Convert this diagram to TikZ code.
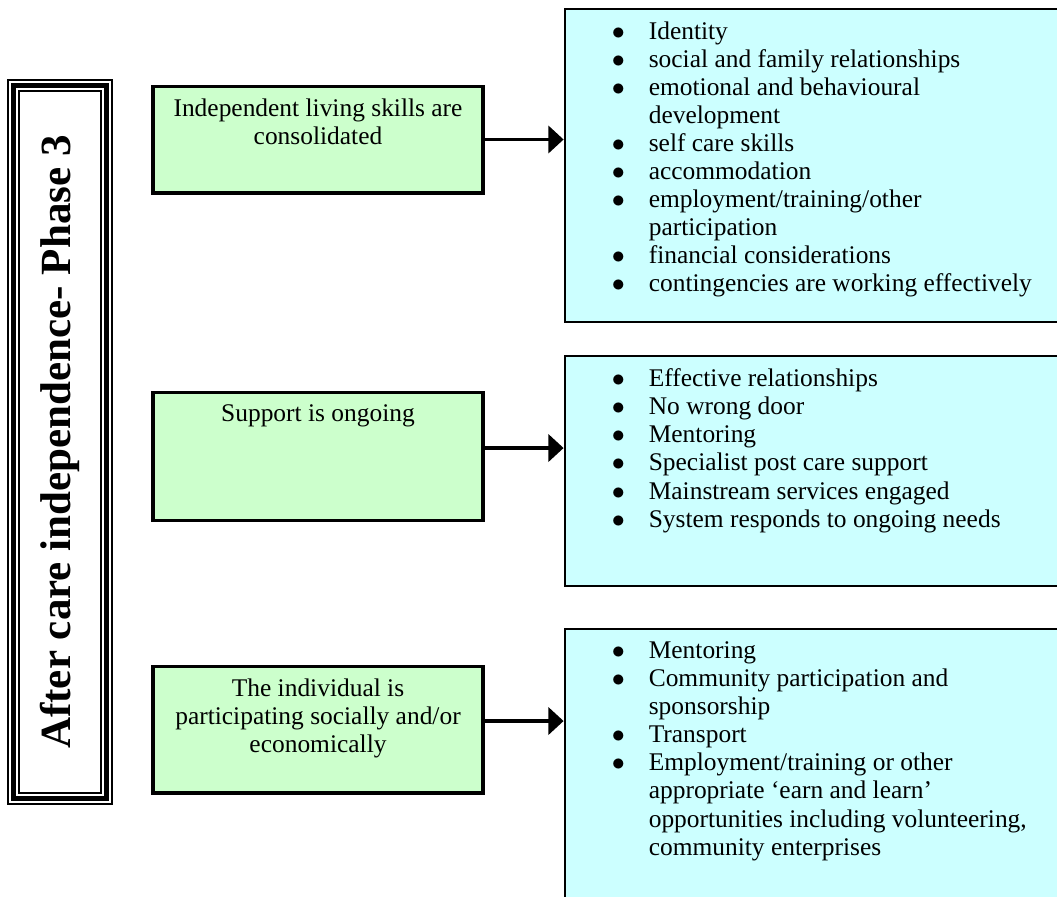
\documentclass[tikz,border=0pt]{standalone}
\usepackage{fontspec}
\setmainfont{Liberation Serif}
\usetikzlibrary{positioning,arrows.meta}

\definecolor{goalgreen}{RGB}{204,255,204}
\definecolor{detailcyan}{RGB}{204,255,255}

\newcommand{\bul}{\makebox[17pt][l]{$\bullet$}}
\newcommand{\cnt}{\hspace*{17pt}}

\begin{document}
\begin{tikzpicture}[x=0.46pt, y=-0.46pt,
	goal/.style={draw, line width=1.4pt, fill=goalgreen, minimum width=151.8pt, inner sep=0pt},
	detail/.style={draw, line width=1.3pt, fill=detailcyan, minimum width=227.7pt, inner sep=0pt},
	goaltext/.style={inner sep=0pt, align=center, font=\fontsize{11.7pt}{12.9pt}\selectfont},
	listtext/.style={inner sep=0pt, align=left, font=\fontsize{11.7pt}{12.9pt}\selectfont},
	link/.style={line width=1.5pt, -{Triangle[length=7pt,width=12.5pt]}}]

	\clip (0,0) rectangle (1057,896);

	% phase banner
	\node[draw, line width=0.9pt, minimum width=47.8pt, minimum height=333pt, inner sep=0pt] (frame) at (60,442) {};
	\draw[line width=2.4pt] ([shift={(6.5,6.5)}]frame.north west) rectangle ([shift={(-6.5,-6.5)}]frame.south east);
	\draw[line width=0.9pt] ([shift={(12,12)}]frame.north west) rectangle ([shift={(-12,-12)}]frame.south east);
	\node[rotate=90, font=\fontsize{19.8pt}{23pt}\selectfont\bfseries] (title) at (frame.center) {After care independence- Phase 3};

	% outcomes
	\node[goal, minimum height=49.2pt] (g1) at (318,139.5) {};
	\node[goal, minimum height=59.3pt] (g2) at (318,456.5) {};
	\node[goal, minimum height=58.4pt] (g3) at (318,729.5) {};

	\node[goaltext, below=6.4pt of g1.north] (g1t) {Independent living skills are\\consolidated};
	\node[goaltext, below=6.4pt of g2.north] (g2t) {Support is ongoing};
	\node[goaltext, below=6.4pt of g3.north] (g3t) {The individual is\\participating socially and/or\\economically};

	% indicators
	\node[detail, minimum height=144pt] (b1) at (812.5,165.5) {};
	\node[detail, minimum height=105.8pt] (b2) at (812.5,471) {};
	\node[detail, minimum height=124.7pt] (b3) at (812.5,764.5) {};

	\node[listtext, below right=6.4pt and 22pt of b1.north west] (b1t) {\bul Identity\\
		\bul social and family relationships\\
		\bul emotional and behavioural\\
		\cnt development\\
		\bul self care skills\\
		\bul accommodation\\
		\bul employment/training/other\\
		\cnt participation\\
		\bul financial considerations\\
		\bul contingencies are working effectively};
	\node[listtext, below right=6.4pt and 22pt of b2.north west] (b2t) {\bul Effective relationships\\
		\bul No wrong door\\
		\bul Mentoring\\
		\bul Specialist post care support\\
		\bul Mainstream services engaged\\
		\bul System responds to ongoing needs};
	\node[listtext, below right=6.4pt and 22pt of b3.north west] (b3t) {\bul Mentoring\\
		\bul Community participation and\\
		\cnt sponsorship\\
		\bul Transport\\
		\bul Employment/training or other\\
		\cnt appropriate ‘earn and learn’\\
		\cnt opportunities including volunteering,\\
		\cnt community enterprises};

	% links
	\coordinate (a1) at (g1.east);
	\coordinate (a2) at ([yshift=3.9pt]g2.east);
	\coordinate (a3) at ([yshift=3.9pt]g3.east);
	\draw[link] (a1) -- (a1 -| b1.west);
	\draw[link] (a2) -- (a2 -| b2.west);
	\draw[link] (a3) -- (a3 -| b3.west);

\end{tikzpicture}
\end{document}
